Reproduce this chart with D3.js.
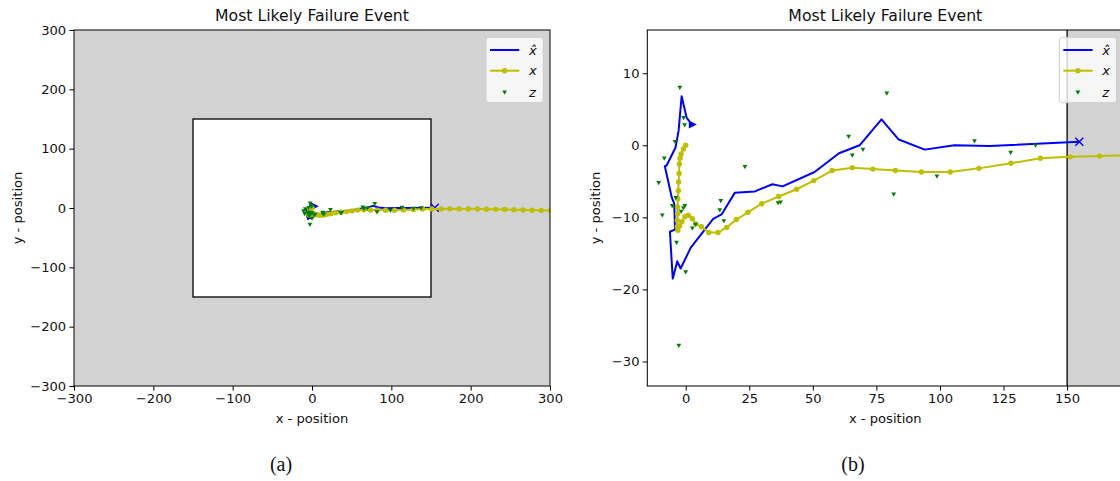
<!DOCTYPE html>
<html>
<head>
<meta charset="utf-8">
<script src="https://cdn.jsdelivr.net/npm/d3@7"></script>
<style>
body { margin: 0; background: #fff; }
text { font-family: "DejaVu Sans", sans-serif; fill: #111; }
</style>
</head>
<body>
<script>
// estimated state (x hat)
var estX = [2.4,0.4,-1.6,-2.8,-4.0,-7.5,-8.2,-5.5,-4.5,-4.2,-6.2,-5.1,-3.3,-2.0,2.0,10.8,14.1,19.3,27.2,34.1,38.1,50.7,60.3,68.4,77.0,83.8,94.0,105.7,119.4,154.8];
var estY = [2.9,3.8,6.8,2.0,-0.3,-2.8,-2.9,-7.2,-8.1,-11.7,-12.0,-18.5,-16.1,-17.1,-14.2,-10.2,-9.6,-6.6,-6.4,-5.4,-5.7,-3.7,-1.1,0.0,3.6,0.8,-0.6,0.0,-0.1,0.5];
// true state (x)
var trueX = [0,-0.9,-1.8,-2.2,-2.5,-2.6,-2.8,-2.9,-3.1,-3.2,-3.2,-3.3,-3.3,-3.1,-2.4,-1.5,-0.3,1.0,2.6,3.9,6.2,9.1,12.7,16.1,19.9,24.5,29.9,36.6,43.6,50.4,57.6,65.5,73.6,82.5,92.7,104,115.3,127.9,139.5,151.2,162.7,174,185.5,197,208.5,220,231.5,243,254.5,266,277.5,289,300.5,312];
var trueY = [0,-0.5,-1.2,-1.8,-2.6,-3.9,-5.1,-6.3,-7.4,-8.6,-9.5,-10.4,-11.3,-11.8,-11.2,-10.6,-9.9,-9.7,-10.2,-10.9,-11.3,-12.1,-12.1,-11.4,-10.3,-9.3,-8.1,-7.1,-6.1,-4.9,-3.5,-3.1,-3.3,-3.5,-3.7,-3.7,-3.2,-2.5,-1.8,-1.6,-1.5,-1.4,-1.5,-1.6,-1.8,-2.0,-2.3,-2.6,-3.0,-3.3,-3.7,-4.0,-4.3,-4.6];
// measurements (z)
var measX = [-2.3,-0.8,-0.4,-4.2,-8.4,-10.6,-9.2,-3.9,-5.3,-0.9,-0.3,-1.8,2.6,3.9,-3.6,0.0,-2.7,13.8,13.4,15.0,23.3,36.3,37.3,64.1,65.5,69.7,79.1,81.8,98.8,113.6,127.8,137.6];
var measY = [8.0,3.8,2.8,0.5,-1.8,-5.2,-9.7,-7.3,-8.4,-8.7,-8.4,-9.2,-11.5,-11.0,-13.5,-17.6,-27.8,-7.7,-9.0,-10.5,-3.0,-8.0,-7.9,1.2,-1.4,-0.6,7.2,-6.8,-4.3,0.6,-1.0,0.0];

var ticksA = [-300,-200,-100,0,100,200,300];
var ticksBx = [0,25,50,75,100,125,150];
var ticksBy = [10,0,-10,-20,-30];
var bound = 150;
var title = "Most Likely Failure Event";
var legendLabels = ["x\u0302", "x", "z"];

var blue = "#0000ff", yellow = "#bfbf00", green = "#008000";

var svg = d3.select("body").append("svg")
    .attr("width", 1120)
    .attr("height", 481);

var est = d3.zip(estX, estY);
var tru = d3.zip(trueX, trueY);
var meas = d3.zip(measX, measY);

function tri(cx, cy) {
    return `M${cx - 2.4},${cy - 1.8}L${cx + 2.4},${cy - 1.8}L${cx},${cy + 2.4}Z`;
}

function panel(id, left, xDom, yDom, xTicks, yTicks, ylabX, capX, cap) {
    var top = 30, w = 476, h = 356;
    var x = d3.scaleLinear().domain(xDom).range([0, w]);
    var y = d3.scaleLinear().domain(yDom).range([h, 0]);

    var g = svg.append("g").attr("transform", `translate(${left},${top})`);

    svg.append("clipPath").attr("id", id)
        .append("rect").attr("width", w).attr("height", h);

    var c = g.append("g").attr("clip-path", `url(#${id})`);
    c.append("rect").attr("width", w).attr("height", h).attr("fill", "#d3d3d3");
    c.append("rect")
        .attr("x", x(-bound)).attr("y", y(bound))
        .attr("width", x(bound) - x(-bound))
        .attr("height", y(-bound) - y(bound))
        .attr("fill", "#fff").attr("stroke", "#000").attr("stroke-width", 1.3);

    var line = d3.line().x(d => x(d[0])).y(d => y(d[1]));

    c.append("path").datum(est).attr("d", line)
        .attr("fill", "none").attr("stroke", blue).attr("stroke-width", 2)
        .attr("stroke-linejoin", "round");
    // start / end markers of estimate
    var s = est[0], e = est[est.length - 1];
    c.append("path")
        .attr("d", `M${x(s[0]) - 3},${y(s[1]) - 4}L${x(s[0]) + 5},${y(s[1])}L${x(s[0]) - 3},${y(s[1]) + 4}Z`)
        .attr("fill", blue);
    c.append("path")
        .attr("d", `M${x(e[0]) - 4},${y(e[1]) - 4}L${x(e[0]) + 4},${y(e[1]) + 4}M${x(e[0]) - 4},${y(e[1]) + 4}L${x(e[0]) + 4},${y(e[1]) - 4}`)
        .attr("stroke", blue).attr("stroke-width", 1.4);

    c.append("path").datum(tru).attr("d", line)
        .attr("fill", "none").attr("stroke", yellow).attr("stroke-width", 2)
        .attr("stroke-linejoin", "round");
    c.selectAll(".dot").data(tru).enter().append("circle")
        .attr("cx", d => x(d[0])).attr("cy", d => y(d[1]))
        .attr("r", 2.7).attr("fill", yellow);

    c.selectAll(".meas").data(meas).enter().append("path")
        .attr("d", d => tri(x(d[0]), y(d[1])))
        .attr("fill", green);

    // spines
    g.append("rect").attr("width", w).attr("height", h)
        .attr("fill", "none").attr("stroke", "#000").attr("stroke-width", 1);

    var ax = g.append("g").attr("transform", `translate(0,${h})`)
        .call(d3.axisBottom(x).tickValues(xTicks).tickSize(4.6).tickPadding(3.2));
    var ay = g.append("g")
        .call(d3.axisLeft(y).tickValues(yTicks).tickSize(4.6).tickPadding(3.2));
    [ax, ay].forEach(a => {
        a.select(".domain").remove();
        a.selectAll("text").style("font-family", "DejaVu Sans").style("font-size", "13.1px").attr("fill", "#111");
    });

    g.append("text").attr("x", w / 2).attr("y", -9)
        .attr("text-anchor", "middle").style("font-size", "15.7px").text(title);
    g.append("text").attr("x", w / 2).attr("y", h + 37)
        .attr("text-anchor", "middle").style("font-size", "13.1px").text("x - position");
    g.append("text")
        .attr("transform", `translate(${ylabX},${h / 2}) rotate(-90)`)
        .attr("text-anchor", "middle").attr("dy", "0.35em")
        .style("font-size", "13.1px").text("y - position");

    // legend
    var lg = g.append("g").attr("transform", `translate(${w - 64},7.3)`);
    lg.append("rect").attr("width", 57.3).attr("height", 65.4).attr("rx", 3)
        .attr("fill", "#fff").attr("fill-opacity", 0.8)
        .attr("stroke", "#ccc").attr("stroke-width", 1);
    var rows = [12.7, 33.4, 55];
    lg.append("line").attr("x1", 4).attr("x2", 33.3).attr("y1", rows[0]).attr("y2", rows[0])
        .attr("stroke", blue).attr("stroke-width", 2);
    lg.append("line").attr("x1", 4).attr("x2", 33.3).attr("y1", rows[1]).attr("y2", rows[1])
        .attr("stroke", yellow).attr("stroke-width", 2);
    lg.append("circle").attr("cx", 18.6).attr("cy", rows[1]).attr("r", 2.7).attr("fill", yellow);
    lg.append("path").attr("d", tri(18.6, rows[2])).attr("fill", green);
    legendLabels.forEach((t, i) => {
        lg.append("text").attr("x", 43).attr("y", rows[i]).attr("dy", "0.35em")
            .style("font-size", "13.1px").style("font-style", "italic").text(t);
    });

    svg.append("text").attr("x", capX).attr("y", 471).attr("text-anchor", "middle")
        .style("font-family", "Liberation Serif, DejaVu Serif, serif").style("font-size", "20px").text(cap);
}

panel("clipA", 74, [-300, 300], [-300, 300], ticksA, ticksA, -57, 281, "(a)");
panel("clipB", 647.3, [-15.1, 172.1], [-33.4, 16.0], ticksBx, ticksBy, -52, 853, "(b)");
</script>
</body>
</html>
